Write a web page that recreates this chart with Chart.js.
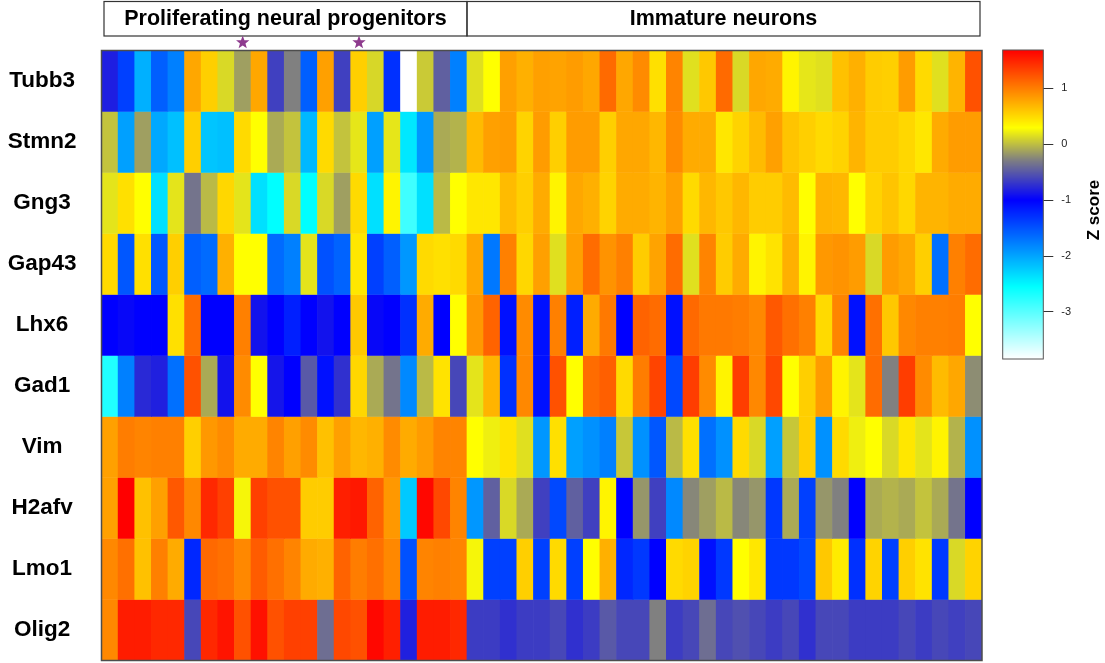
<!DOCTYPE html>
<html><head><meta charset="utf-8">
<script src="https://cdn.jsdelivr.net/npm/chart.js@4.4.0/dist/chart.umd.min.js"></script>
<style>
html,body{margin:0;padding:0;background:#fff;}
#wrap{position:relative;width:1105px;height:663px;overflow:hidden;}
#main{position:absolute;left:0;top:0;}
#bar{position:absolute;left:990px;top:40px;}
</style></head><body>
<div id="wrap"><canvas id="main" width="1105" height="663"></canvas><canvas id="bar" width="115" height="330"></canvas></div>
<script>
// ---- categories ----
const genes = ['Tubb3','Stmn2','Gng3','Gap43','Lhx6','Gad1','Vim','H2afv','Lmo1','Olig2'];
const cells = ['P1','P2','P3','P4','P5','P6','P7','P8','P9','P10','P11','P12','P13','P14','P15','P16','P17','P18','P19','P20','P21','P22',
  'N1','N2','N3','N4','N5','N6','N7','N8','N9','N10','N11','N12','N13','N14','N15','N16','N17','N18','N19','N20','N21','N22','N23','N24','N25','N26','N27','N28','N29','N30','N31'];
const groupLabels = ['Proliferating neural progenitors','Immature neurons'];
const groupSizes = [22, 31];
const starredCells = ['P9','P16'];

// ---- Z scores per gene (one value per cell) ----
const tubb3 = [-0.83,-1.39,-2.07,-1.58,-1.78,0.77,0.55,0.12,-0.14,0.77,-0.64,-0.28,-1.58,0.81,-0.64,0.55,0.11,-1.29,-3.84,0.05,-0.46,-1.78,
  0.15,0.29,0.81,0.72,0.81,0.79,0.83,0.77,1.10,0.77,0.92,0.46,0.96,0.15,0.59,1.10,0.12,0.77,0.75,0.35,0.18,0.15,0.63,0.72,0.57,0.55,0.83,0.49,0.15,0.70,1.24];
const stmn2 = [0.02,-1.97,-0.14,-2.02,-2.17,0.55,-2.2,-2.17,0.49,0.29,-0.09,0.02,-2.12,0.49,0.02,0.18,-1.97,0.18,-2.41,-1.92,-0.09,-0.05,
  0.66,0.81,0.83,0.53,0.83,0.55,0.83,0.83,0.55,0.77,0.77,0.68,0.92,0.75,0.75,0.42,0.53,0.66,0.81,0.61,0.55,0.49,0.53,0.70,0.57,0.57,0.51,0.42,0.75,0.83,0.83];
const gng3 = [0.17,0.46,0.29,-2.36,0.17,-0.35,-0.02,0.51,0.17,-2.36,-2.55,0.12,-2.55,0.12,-0.14,0.49,-2.36,0.35,-2.87,-2.36,-0.02,0.29,
  0.42,0.42,0.66,0.55,0.75,0.35,0.77,0.72,0.53,0.75,0.75,0.70,0.81,0.49,0.68,0.59,0.68,0.57,0.57,0.66,0.29,0.70,0.68,0.29,0.53,0.61,0.51,0.70,0.70,0.75,0.75];
const gap43 = [0.49,-1.53,0.46,-1.53,0.55,-1.58,-1.65,0.72,0.29,0.29,-1.65,-1.78,0.17,-1.49,-1.60,0.42,-1.39,-1.58,-1.92,0.49,0.46,0.49,
  0.77,-1.73,0.98,0.51,0.81,0.15,0.81,1.09,0.88,0.98,0.57,0.79,1.09,0.15,0.96,0.57,0.75,0.35,0.44,0.72,0.35,0.85,0.88,0.83,0.12,0.83,0.77,0.55,-1.68,0.98,1.09];
const lhx6 = [-1.0,-0.96,-1.0,-1.0,0.46,1.09,-1.0,-1.0,0.98,-0.9,-1.0,-1.19,-1.0,-0.9,-1.0,0.59,-0.96,-1.0,-1.29,0.75,-1.0,0.29,
  0.85,1.14,-1.1,0.92,-1.1,0.98,-1.19,0.75,1.02,-1.0,1.14,1.09,-1.1,1.11,1.02,1.02,1.0,0.94,1.20,1.07,0.98,0.49,0.96,-1.1,1.07,0.59,0.94,0.98,0.98,1.0,0.29];
const gad1 = [-2.71,-1.78,-0.77,-0.82,-1.68,1.24,-0.09,-0.9,0.92,0.29,-0.88,-1.0,-0.5,-1.1,-0.73,0.51,-0.09,-0.35,-1.83,-0.02,0.44,-0.6,
  0.17,0.70,-1.29,0.94,-1.1,1.24,0.29,1.09,1.16,0.49,1.0,1.31,-1.44,1.35,0.92,0.35,1.35,0.94,1.29,0.29,0.55,0.83,0.35,0.17,1.09,-0.28,1.35,0.92,0.66,0.77,-0.22];
const vim = [0.81,1.0,0.96,0.98,0.98,0.55,0.85,0.92,0.75,0.75,0.96,0.81,0.92,0.63,0.81,0.68,0.72,0.92,0.75,0.83,0.96,0.96,
  0.29,0.22,0.44,0.15,-1.92,0.46,-1.97,-1.88,-1.78,0.04,-1.88,-1.53,-0.02,0.46,-1.68,-1.88,0.49,0.12,-1.97,0.04,0.55,-1.88,0.49,0.22,0.29,0.12,0.42,0.17,0.35,-0.05,-1.88];
const h2afv = [0.81,1.68,0.63,0.81,1.20,0.94,1.46,1.33,0.25,1.33,1.24,1.24,0.57,0.57,1.51,1.55,1.14,0.85,-2.22,1.64,1.29,0.96,
  -1.92,-0.46,0.12,-0.09,-0.64,-1.44,-0.46,-0.64,0.35,-1.0,-0.18,-0.64,-1.83,-0.25,-0.14,-0.02,-0.25,-0.18,-1.34,-0.09,-1.39,-0.18,-0.28,-1.0,-0.09,-0.05,-0.09,0.02,-0.09,-0.35,-1.0];
const lmo1 = [0.94,1.07,0.63,0.98,0.75,-1.24,1.11,1.07,0.94,1.18,1.07,0.96,0.75,0.72,1.14,1.0,1.07,0.94,-1.49,0.96,0.98,0.96,
  0.25,-1.39,-1.39,0.55,-1.39,0.49,-1.39,0.29,0.72,-1.24,-1.34,-1.0,0.49,0.53,-1.1,-1.34,0.29,0.42,-1.34,-1.34,-1.44,0.59,0.40,-1.29,0.53,-1.39,0.55,0.44,-1.34,0.12,0.53];
const olig2 = [0.94,1.53,1.53,1.46,1.46,-0.6,1.46,1.57,1.24,1.59,1.24,1.33,1.33,-0.38,1.29,1.24,1.64,1.51,-0.82,1.53,1.53,1.46,
  -0.66,-0.66,-0.73,-0.66,-0.66,-0.6,-0.73,-0.66,-0.5,-0.6,-0.6,-0.28,-0.66,-0.6,-0.38,-0.6,-0.55,-0.6,-0.66,-0.6,-0.73,-0.6,-0.6,-0.66,-0.66,-0.66,-0.6,-0.66,-0.6,-0.64,-0.6];
const zRows = [tubb3, stmn2, gng3, gap43, lhx6, gad1, vim, h2afv, lmo1, olig2];

// ---- colour scale ----
const zStops  = [-3.84, -2.55, -1.0, -0.28, 0.29, 1.68];
const zColors = [[255,255,255],[0,255,255],[0,0,255],[128,128,128],[255,255,0],[255,0,0]];
const zTicks  = [-3, -2, -1, 0, 1];
function zColor(v){
  if (v <= zStops[0]) return 'rgb(' + zColors[0].join(',') + ')';
  for (let i = 1; i < zStops.length; i++) {
    if (v <= zStops[i]) {
      const t = (v - zStops[i-1]) / (zStops[i] - zStops[i-1]);
      const a = zColors[i-1], b = zColors[i];
      return 'rgb(' + a.map((c,k)=>Math.round(c + (b[k]-c)*t)).join(',') + ')';
    }
  }
  return 'rgb(' + zColors[zColors.length-1].join(',') + ')';
}

const FONT = "'Liberation Sans', Arial, sans-serif";

const frameHeader = {
  id: 'frameHeader',
  afterDatasetsDraw(chart){
    const {ctx, chartArea:a, scales:{x}} = chart;
    ctx.save();
    ctx.strokeStyle = '#4d4d4d'; ctx.lineWidth = 1.5;
    ctx.strokeRect(a.left, a.top, a.right - a.left, a.bottom - a.top);
    // header boxes
    const colW = x.getPixelForValue(1) - x.getPixelForValue(0);
    let start = 0;
    ctx.strokeStyle = '#333'; ctx.lineWidth = 1.2;
    ctx.fillStyle = '#000';
    ctx.font = 'bold 21.5px ' + FONT;
    ctx.textAlign = 'center'; ctx.textBaseline = 'middle';
    groupSizes.forEach((n, gi) => {
      let x0 = x.getPixelForValue(start) - colW/2;
      let x1 = x.getPixelForValue(start + n - 1) + colW/2;
      if (gi === 0) x0 += 2.5;
      if (gi === groupSizes.length-1) x1 -= 2;
      ctx.strokeRect(x0, 1.5, x1 - x0, 34.5);
      ctx.fillText(groupLabels[gi], (x0 + x1)/2, 19.5);
      start += n;
    });
    // stars
    ctx.fillStyle = '#8e3b8e';
    starredCells.forEach(c => {
      const cx = x.getPixelForValue(cells.indexOf(c)), cy = 42.5;
      ctx.beginPath();
      for (let k = 0; k < 10; k++) {
        const r = k % 2 === 0 ? 7 : 2.9;
        const ang = -Math.PI/2 + k * Math.PI/5;
        const px = cx + r*Math.cos(ang), py = cy + r*Math.sin(ang);
        k === 0 ? ctx.moveTo(px, py) : ctx.lineTo(px, py);
      }
      ctx.closePath(); ctx.fill();
    });
    ctx.restore();
  }
};

new Chart(document.getElementById('main'), {
  type: 'bar',
  data: {
    labels: cells,
    datasets: genes.map((g, r) => ({
      label: g,
      data: zRows[r].map(() => [r, r + 1]),
      backgroundColor: zRows[r].map(zColor),
      borderWidth: 0,
      grouped: false,
      categoryPercentage: 1,
      barPercentage: 1
    }))
  },
  options: {
    responsive: false, animation: false,
    layout: { padding: { top: 50.5, right: 123, bottom: 2.5, left: 0 } },
    plugins: { legend: { display: false }, tooltip: { enabled: false } },
    scales: {
      x: { type: 'category', display: false, offset: true },
      y: {
        type: 'linear', min: 0, max: 10, reverse: true, position: 'left',
        grid: { display: false, drawTicks: false }, border: { display: false },
        afterBuildTicks(ax){ ax.ticks = genes.map((g, i) => ({ value: i + 0.5 })); },
        afterFit(ax){ ax.width = 101.5; ax.paddingTop = 0; ax.paddingBottom = 0; },
        ticks: {
          autoSkip: false, crossAlign: 'center', padding: 25,
          color: '#000', font: { family: FONT, weight: 'bold', size: 22.5 },
          callback: (v, i) => genes[i]
        }
      }
    }
  },
  plugins: [frameHeader]
});

// ---- colour key ----
const keyPlugin = {
  id: 'keyPlugin',
  beforeDatasetsDraw(chart){
    const {ctx, chartArea:a, scales:{y}} = chart;
    ctx.save();
    for (let py = Math.floor(a.top); py < a.bottom; py++) {
      ctx.fillStyle = zColor(y.getValueForPixel(py + 0.5));
      ctx.fillRect(a.left, py, a.right - a.left, 1);
    }
    ctx.strokeStyle = '#555'; ctx.lineWidth = 1;
    ctx.strokeRect(a.left, a.top, a.right - a.left, a.bottom - a.top);
    ctx.fillStyle = '#000';
    ctx.font = 'bold 17px ' + FONT;
    ctx.textAlign = 'center'; ctx.textBaseline = 'middle';
    ctx.translate(104, 170);
    ctx.rotate(-Math.PI/2);
    ctx.fillText('Z score', 0, 0);
    ctx.restore();
  }
};

new Chart(document.getElementById('bar'), {
  type: 'bar',
  data: { labels: [''], datasets: [] },
  options: {
    responsive: false, animation: false,
    layout: { padding: { top: 10, right: 0, bottom: 11, left: 12.7 } },
    plugins: { legend: { display: false }, tooltip: { enabled: false } },
    scales: {
      x: { display: false },
      y: {
        type: 'linear', position: 'right', min: zStops[0], max: zStops[zStops.length-1],
        afterBuildTicks(ax){ ax.ticks = zTicks.map(v => ({ value: v })); },
        afterFit(ax){ ax.width = 61.7; ax.paddingTop = 0; ax.paddingBottom = 0; },
        grid: { drawOnChartArea: false, tickLength: 10, color: '#333' },
        border: { display: false },
        ticks: { padding: 8, color: '#222', font: { family: FONT, size: 11 }, callback: v => String(v) }
      }
    }
  },
  plugins: [keyPlugin]
});
</script>
</body></html>
